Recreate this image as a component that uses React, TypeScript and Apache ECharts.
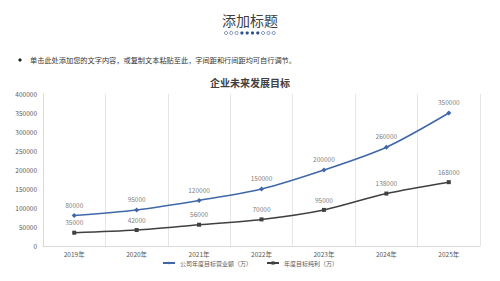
import React, { useEffect, useRef } from "react";
import * as echarts from "echarts";

const categories = ["2019年", "2020年", "2021年", "2022年", "2023年", "2024年", "2025年"];
const revenue = [80000, 95000, 120000, 150000, 200000, 260000, 350000];
const profit = [35000, 42000, 56000, 70000, 95000, 138000, 168000];
const seriesNames = ["公司年度目标营业额（万）", "年度目标纯利（万）"];
const dotsFilled = [false, false, false, true, true, true, true, false, false, false];

export default function App() {
  const ref = useRef<HTMLDivElement>(null);
  useEffect(() => {
    const chart = echarts.init(ref.current!, null, { renderer: "svg" });
    const font = "'Noto Sans CJK SC', 'Noto Sans', sans-serif";
    const dots = dotsFilled.map((f, i) => ({
      type: "circle",
      shape: { cx: 226 + i * 5.3, cy: 33, r: 1.6 },
      style: f ? { fill: "#2f4f8f" } : { fill: "#fff", stroke: "#2f4f8f", lineWidth: 0.6 },
    }));
    const labelStyle = {
      show: true,
      position: "top",
      fontSize: 6.5,
      color: "#808080",
      distance: 5,
      textBorderWidth: 0,
      textBorderColor: "transparent",
    };
    chart.setOption({
      animation: false,
      backgroundColor: "#fff",
      textStyle: { fontFamily: font },
      title: {
        text: "企业未来发展目标",
        left: "center",
        top: 72,
        textStyle: { fontSize: 10, fontWeight: "bold", color: "#404040", fontFamily: font },
      },
      graphic: [
        {
          type: "text",
          x: 250,
          y: 20,
          style: { text: "添加标题", fontSize: 14, fill: "#404040", align: "center", verticalAlign: "middle", fontFamily: font },
        },
        ...dots,
        { type: "circle", shape: { cx: 20, cy: 60, r: 1.6 }, style: { fill: "#222" } },
        {
          type: "text",
          x: 30,
          y: 60,
          style: {
            text: "单击此处添加您的文字内容，或复制文本粘贴至此，字间距和行间距均可自行调节。",
            fontSize: 7.2,
            fill: "#333",
            verticalAlign: "middle",
            fontFamily: font,
          },
        },
      ],
      legend: {
        bottom: 10,
        left: "center",
        itemWidth: 12,
        itemHeight: 4,
        itemGap: 14,
        textStyle: { fontSize: 6, color: "#595959" },
        data: seriesNames,
      },
      grid: { left: 43, right: 20, top: 94, bottom: 35 },
      xAxis: {
        type: "category",
        data: categories,
        boundaryGap: true,
        axisLine: { lineStyle: { color: "#d9d9d9" } },
        axisTick: { show: false },
        axisLabel: { fontSize: 6.5, color: "#595959", margin: 5 },
        splitLine: { show: true, lineStyle: { color: "#e6e6e6" } },
      },
      yAxis: {
        type: "value",
        min: 0,
        max: 400000,
        interval: 50000,
        axisLine: { show: true, lineStyle: { color: "#d9d9d9" } },
        axisTick: { show: false },
        axisLabel: { fontSize: 6.5, color: "#595959", margin: 6, formatter: (v: number) => String(v) },
        splitLine: { show: false },
      },
      series: [
        {
          name: seriesNames[0],
          type: "line",
          data: revenue,
          smooth: 0.3,
          symbol: "diamond",
          symbolSize: 5,
          lineStyle: { color: "#4068a8", width: 1.5 },
          itemStyle: { color: "#4068a8" },
          label: labelStyle,
        },
        {
          name: seriesNames[1],
          type: "line",
          data: profit,
          smooth: 0.3,
          symbol: "rect",
          symbolSize: 4,
          lineStyle: { color: "#404040", width: 1.5 },
          itemStyle: { color: "#404040" },
          label: labelStyle,
        },
      ],
    });
    return () => chart.dispose();
  }, []);
  return <div ref={ref} style={{ width: 500, height: 281, position: "absolute", left: 0, top: 0 }} />;
}
